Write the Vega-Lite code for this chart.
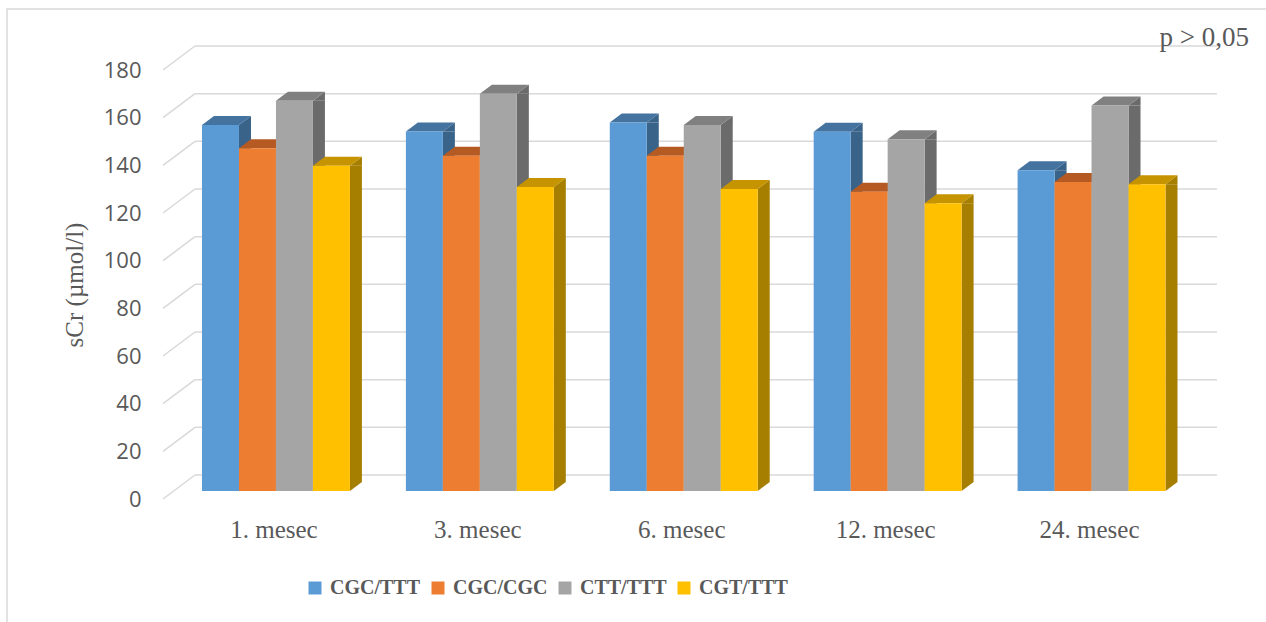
{
  "$schema": "https://vega.github.io/schema/vega-lite/v6.json",
  "width": 1265,
  "height": 618,
  "autosize": {"type": "none"},
  "padding": {"left": 7, "top": 9, "right": -6, "bottom": -5},
  "background": "white",
  "config": {"view": {"stroke": "#D9D9D9", "strokeWidth": 1.5}},
  "datasets": {
    "bars": [
      {"month": "1. mesec", "series": "CGC/TTT", "value": 153.6},
      {"month": "1. mesec", "series": "CGC/CGC", "value": 143.8},
      {"month": "1. mesec", "series": "CTT/TTT", "value": 163.7},
      {"month": "1. mesec", "series": "CGT/TTT", "value": 136.5},
      {"month": "3. mesec", "series": "CGC/TTT", "value": 150.8},
      {"month": "3. mesec", "series": "CGC/CGC", "value": 140.7},
      {"month": "3. mesec", "series": "CTT/TTT", "value": 166.7},
      {"month": "3. mesec", "series": "CGT/TTT", "value": 127.6},
      {"month": "6. mesec", "series": "CGC/TTT", "value": 154.6},
      {"month": "6. mesec", "series": "CGC/CGC", "value": 140.7},
      {"month": "6. mesec", "series": "CTT/TTT", "value": 153.6},
      {"month": "6. mesec", "series": "CGT/TTT", "value": 126.7},
      {"month": "12. mesec", "series": "CGC/TTT", "value": 150.7},
      {"month": "12. mesec", "series": "CGC/CGC", "value": 125.6},
      {"month": "12. mesec", "series": "CTT/TTT", "value": 147.6},
      {"month": "12. mesec", "series": "CGT/TTT", "value": 120.7},
      {"month": "24. mesec", "series": "CGC/TTT", "value": 134.6},
      {"month": "24. mesec", "series": "CGC/CGC", "value": 129.7},
      {"month": "24. mesec", "series": "CTT/TTT", "value": 161.7},
      {"month": "24. mesec", "series": "CGT/TTT", "value": 128.7}
    ],
    "grid": [
      {"value": 0}, {"value": 20}, {"value": 40}, {"value": 60}, {"value": 80},
      {"value": 100}, {"value": 120}, {"value": 140}, {"value": 160}, {"value": 180}
    ],
    "note": [{"month": "24. mesec", "value": 180, "label": "p > 0,05"}]
  },
  "layer": [
    {
      "data": {"name": "grid"},
      "mark": {"type": "rule", "color": "#D9D9D9", "strokeWidth": 1.5, "yOffset": -24},
      "encoding": {
        "x": {"value": 188},
        "x2": {"value": 1210},
        "y": {"field": "value", "type": "quantitative", "title": "sCr (µmol/l)",
          "scale": {"domain": [0, 180], "range": [490, 61], "nice": false, "zero": true},
          "axis": {"orient": "left", "offset": -156, "values": [0, 20, 40, 60, 80, 100, 120, 140, 160, 180], "domain": false, "ticks": false, "tickSize": 0, "grid": false, "labelPadding": 22, "labelFont": "Open Sans", "labelFontSize": 22, "labelColor": "#595959", "title": "sCr (µmol/l)", "titleFont": "Liberation Serif", "titleFontSize": 25, "titleFontWeight": "normal", "titleColor": "#595959", "titlePadding": 16}}
      }
    },
    {
      "data": {"name": "grid"},
      "mark": {"type": "rule", "color": "#D9D9D9", "strokeWidth": 1.5, "y2Offset": -24},
      "encoding": {
        "x": {"value": 156},
        "x2": {"value": 188},
        "y": {"field": "value", "type": "quantitative", "title": "sCr (µmol/l)"},
        "y2": {"field": "value"}
      }
    },
    {
      "data": {"name": "bars"},
      "mark": {"type": "bar", "width": 12, "yOffset": -8, "y2Offset": -17},
      "encoding": {
        "x": {"field": "month", "type": "nominal", "title": null, "sort": ["1. mesec", "3. mesec", "6. mesec", "12. mesec", "24. mesec"],
          "scale": {"domain": ["1. mesec", "3. mesec", "6. mesec", "12. mesec", "24. mesec"], "range": [167, 1186.5], "paddingInner": 0.2745, "paddingOuter": 0.1373},
          "axis": {"orient": "bottom", "offset": -128, "title": null, "domain": false, "ticks": false, "tickSize": 0, "grid": false, "labelPadding": 18.5, "labelOffset": -2, "labelAngle": 0, "labelFont": "Liberation Serif", "labelFontSize": 25, "labelColor": "#595959"}},
        "xOffset": {"field": "series", "type": "nominal", "sort": ["CGC/TTT", "CGC/CGC", "CTT/TTT", "CGT/TTT"], "scale": {"type": "band", "domain": ["CGC/TTT", "CGC/CGC", "CTT/TTT", "CGT/TTT"], "range": [24.5, 172.4], "paddingInner": 0, "paddingOuter": 0}},
        "y": {"field": "value", "type": "quantitative", "title": "sCr (µmol/l)"},
        "y2": {"datum": 0},
        "color": {"field": "series", "type": "nominal", "legend": null, "scale": {"domain": ["CGC/TTT", "CGC/CGC", "CTT/TTT", "CGT/TTT"], "range": ["#3A6389", "#A1521D", "#6B6B6B", "#A67E00"]}}
      }
    },
    {
      "data": {"name": "bars"},
      "mark": {"type": "point", "shape": "M18.5,0L30.5,-9L30.5,0Z", "size": 4, "filled": true, "opacity": 1, "strokeWidth": 0, "yOffset": -8},
      "encoding": {
        "x": {"field": "month", "type": "nominal", "title": null, "sort": ["1. mesec", "3. mesec", "6. mesec", "12. mesec", "24. mesec"]},
        "xOffset": {"field": "series", "type": "nominal", "sort": ["CGC/TTT", "CGC/CGC", "CTT/TTT", "CGT/TTT"], "scale": {"type": "band", "paddingInner": 0, "paddingOuter": 0}},
        "y": {"field": "value", "type": "quantitative", "title": "sCr (µmol/l)"},
        "color": {"field": "series", "type": "nominal", "legend": null, "scale": {"domain": ["CGC/TTT", "CGC/CGC", "CTT/TTT", "CGT/TTT"], "range": ["#3A6389", "#A1521D", "#6B6B6B", "#A67E00"]}}
      }
    },
    {
      "data": {"name": "bars"},
      "mark": {"type": "point", "shape": "M18.5,-9L18.5,0L30.5,-9Z", "size": 4, "filled": true, "opacity": 1, "strokeWidth": 0, "yOffset": -8},
      "encoding": {
        "x": {"field": "month", "type": "nominal", "title": null, "sort": ["1. mesec", "3. mesec", "6. mesec", "12. mesec", "24. mesec"]},
        "xOffset": {"field": "series", "type": "nominal", "sort": ["CGC/TTT", "CGC/CGC", "CTT/TTT", "CGT/TTT"], "scale": {"type": "band", "paddingInner": 0, "paddingOuter": 0}},
        "y": {"datum": 0, "type": "quantitative", "title": "sCr (µmol/l)"},
        "color": {"field": "series", "type": "nominal", "legend": null, "scale": {"domain": ["CGC/TTT", "CGC/CGC", "CTT/TTT", "CGT/TTT"], "range": ["#3A6389", "#A1521D", "#6B6B6B", "#A67E00"]}}
      }
    },
    {
      "data": {"name": "bars"},
      "mark": {"type": "point", "shape": "M-18.5,0L18.5,0L30.5,-9L-6.5,-9Z", "size": 4, "filled": true, "opacity": 1, "strokeWidth": 0, "yOffset": -8},
      "encoding": {
        "x": {"field": "month", "type": "nominal", "title": null, "sort": ["1. mesec", "3. mesec", "6. mesec", "12. mesec", "24. mesec"]},
        "xOffset": {"field": "series", "type": "nominal", "sort": ["CGC/TTT", "CGC/CGC", "CTT/TTT", "CGT/TTT"], "scale": {"type": "band", "paddingInner": 0, "paddingOuter": 0}},
        "y": {"field": "value", "type": "quantitative", "title": "sCr (µmol/l)"},
        "color": {"field": "series", "type": "nominal", "legend": null, "scale": {"domain": ["CGC/TTT", "CGC/CGC", "CTT/TTT", "CGT/TTT"], "range": ["#4573A0", "#B55A22", "#808080", "#C59400"]}}
      }
    },
    {
      "data": {"name": "bars"},
      "mark": {"type": "bar", "yOffset": -8, "y2Offset": -8},
      "encoding": {
        "x": {"field": "month", "type": "nominal", "title": null, "sort": ["1. mesec", "3. mesec", "6. mesec", "12. mesec", "24. mesec"]},
        "xOffset": {"field": "series", "type": "nominal", "sort": ["CGC/TTT", "CGC/CGC", "CTT/TTT", "CGT/TTT"], "scale": {"type": "band", "paddingInner": 0, "paddingOuter": 0}},
        "y": {"field": "value", "type": "quantitative", "title": "sCr (µmol/l)"},
        "y2": {"datum": 0},
        "color": {"field": "series", "type": "nominal", "sort": ["CGC/TTT", "CGC/CGC", "CTT/TTT", "CGT/TTT"],
          "scale": {"domain": ["CGC/TTT", "CGC/CGC", "CTT/TTT", "CGT/TTT"], "range": ["#5B9BD5", "#ED7D31", "#A5A5A5", "#FFC000"]},
          "legend": {"orient": "none", "legendX": 298, "legendY": 569, "direction": "horizontal", "title": null, "symbolType": "square", "symbolSize": 169, "symbolStrokeWidth": 0, "labelFont": "Liberation Serif", "labelFontWeight": "bold", "labelFontSize": 20, "labelColor": "#595959", "columnPadding": 7, "labelOffset": 5, "padding": 0, "labelLimit": 300}}
      }
    },
    {
      "data": {"name": "note"},
      "mark": {"type": "text", "align": "right", "baseline": "alphabetic", "xOffset": 157.4, "yOffset": -24, "font": "Liberation Serif", "fontSize": 27, "color": "#595959"},
      "encoding": {
        "x": {"field": "month", "type": "nominal", "title": null, "sort": ["1. mesec", "3. mesec", "6. mesec", "12. mesec", "24. mesec"]},
        "y": {"field": "value", "type": "quantitative", "title": "sCr (µmol/l)"},
        "text": {"field": "label"}
      }
    }
  ],
  "resolve": {"scale": {"color": "independent", "xOffset": "independent"}}
}
